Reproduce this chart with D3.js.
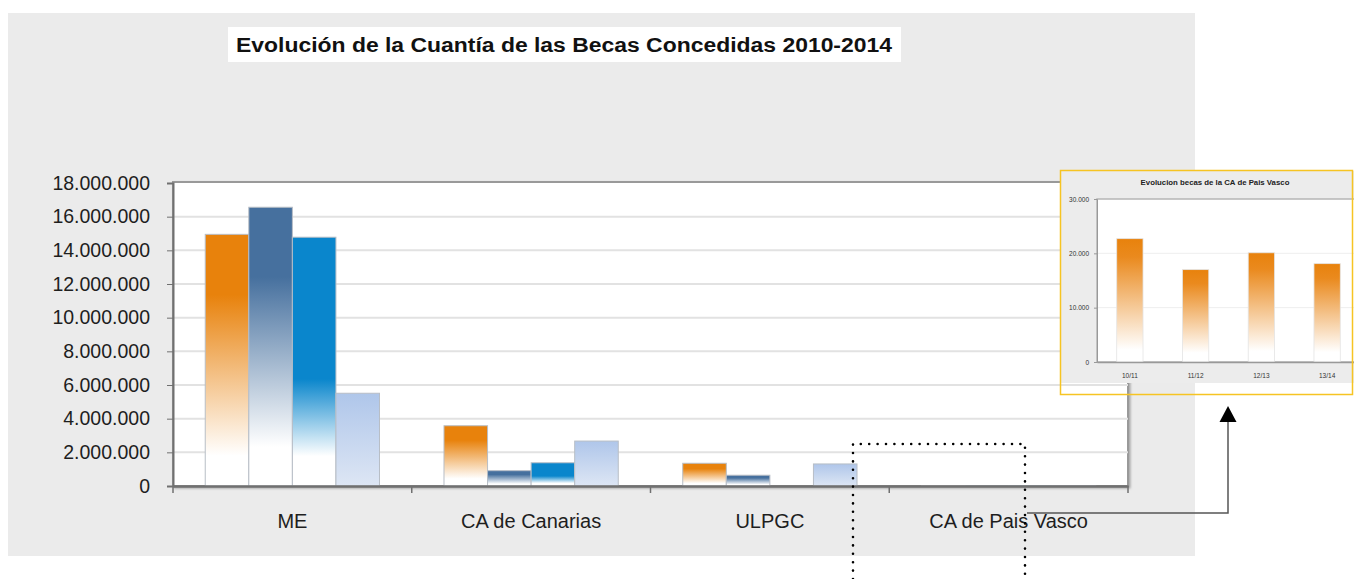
<!DOCTYPE html>
<html>
<head>
<meta charset="UTF-8">
<title>Evolución de la Cuantía de las Becas Concedidas 2010-2014</title>
<script src="https://d3js.org/d3.v7.min.js"></script>
<style>
  body { margin: 0; background: #fff; }
  text { font-family: "Liberation Sans", Arial, Helvetica, sans-serif; }
</style>
</head>
<body>
<svg id="ch" width="1354" height="579"></svg>
<script>
// data
var categories = ["ME", "CA de Canarias", "ULPGC", "CA de Pais Vasco"];
var series = ["10/11", "11/12", "12/13", "13/14"];
var serie1011 = [14950000, 3580000, 1350000, 22700];
var serie1112 = [16560000, 910000, 640000, 17000];
var serie1213 = [14780000, 1380000, 0, 20100];
var serie1314 = [5510000, 2670000, 1310000, 18100];
var yTicks = [0, 2000000, 4000000, 6000000, 8000000, 10000000, 12000000, 14000000, 16000000, 18000000];

// inset: CA de Pais Vasco alone
var insetLabels = ["10/11", "11/12", "12/13", "13/14"];
var insetValues = [22700, 17000, 20100, 18100];
var insetTicks = [0, 10000, 20000, 30000];

var colors = ["#E8820C", "#46709E", "#0A86CC", "#AFC6EA"];
var allSeries = [serie1011, serie1112, serie1213, serie1314];

var fmt = d3.formatLocale({ decimal: ",", thousands: ".", grouping: [3], currency: ["", "€"] }).format(",d");

var svg = d3.select("#ch");
var defs = svg.append("defs");

// gradients, one per series
function vgrad(id, stops) {
  var g = defs.append("linearGradient").attr("id", id)
    .attr("x1", 0).attr("y1", 0).attr("x2", 0).attr("y2", 1);
  stops.forEach(function (s) {
    g.append("stop").attr("offset", s[0]).attr("stop-color", s[1]);
  });
}
vgrad("g0", [[0, colors[0]], [0.24, colors[0]], [0.88, "#fff"], [1, "#fff"]]);
vgrad("g1", [[0, colors[1]], [0.25, colors[1]], [0.86, "#fff"], [1, "#fff"]]);
vgrad("g2", [[0, colors[2]], [0.57, colors[2]], [0.88, "#fff"], [1, "#fff"]]);
vgrad("g3", [[0, colors[3]], [1, "#DDE6F4"]]);
vgrad("gi", [[0, "#E8820C"], [0.15, "#EA8A1E"], [0.9, "#fff"], [1, "#fff"]]);

var sh = defs.append("filter").attr("id", "shadow").attr("x", "-5%").attr("y", "-5%").attr("width", "110%").attr("height", "110%");
sh.append("feDropShadow").attr("dx", 1.5).attr("dy", 1.5).attr("stdDeviation", 1.2).attr("flood-color", "#000").attr("flood-opacity", 0.3);

// grey panel
svg.append("rect").attr("x", 8).attr("y", 13).attr("width", 1187).attr("height", 543).attr("fill", "#EBEBEB");

// title
svg.append("rect").attr("x", 228).attr("y", 27).attr("width", 673).attr("height", 35).attr("fill", "#fff");
svg.append("text").attr("x", 236).attr("y", 52)
  .attr("font-size", 20).attr("font-weight", "bold").attr("fill", "#111")
  .attr("textLength", 656).attr("lengthAdjust", "spacingAndGlyphs")
  .text("Evolución de la Cuantía de las Becas Concedidas 2010-2014");

// scales
var pL = 173, pR = 1128, pT = 183, pB = 486;
var x0 = d3.scaleBand().domain(categories).range([pL, pR]);
var x1 = d3.scaleBand().domain(series).range([0, x0.bandwidth()]).paddingOuter(0.74);
var y = d3.scaleLinear().domain([0, 18000000]).range([pB, pT]);

// plot area
svg.append("rect").attr("x", pL).attr("y", pT - 1).attr("width", pR - pL).attr("height", pB - pT + 1)
  .attr("fill", "#fff").attr("stroke", "#999").attr("stroke-width", 2).attr("filter", "url(#shadow)");

svg.append("g").selectAll("line").data(yTicks.slice(1, -1)).join("line")
  .attr("x1", pL).attr("x2", pR)
  .attr("y1", function (d) { return y(d); }).attr("y2", function (d) { return y(d); })
  .attr("stroke", "#E2E2E2").attr("stroke-width", 2);

// bars
var groups = svg.append("g").selectAll("g").data(categories).join("g")
  .attr("transform", function (d) { return "translate(" + x0(d) + ",0)"; });
groups.selectAll("rect")
  .data(function (c, ci) { return series.map(function (s, si) { return { s: s, si: si, v: allSeries[si][ci] }; }); })
  .join("rect")
  .attr("x", function (d) { return x1(d.s); })
  .attr("y", function (d) { return y(d.v); })
  .attr("width", x1.bandwidth())
  .attr("height", function (d) { return y(0) - y(d.v); })
  .attr("fill", function (d) { return "url(#g" + d.si + ")"; })
  .attr("stroke", function (d) { return d.v > 0 ? "#B8BEC6" : "none"; })
  .attr("stroke-width", 1);

// y axis
var yAxis = svg.append("g").attr("transform", "translate(" + pL + ",0)")
  .call(d3.axisLeft(y).tickValues(yTicks).tickFormat(fmt).tickSize(6).tickPadding(17));
yAxis.select(".domain").attr("stroke", "#707070").attr("stroke-width", 2);
yAxis.selectAll(".tick line").attr("stroke", "#707070");
yAxis.selectAll("text").attr("font-size", 19.5).attr("fill", "#1e1e1e")
  .attr("font-family", "'Liberation Sans', Arial, sans-serif");

// x axis
var xAxis = svg.append("g").attr("transform", "translate(0," + pB + ")")
  .call(d3.axisBottom(x0).tickSize(0).tickPadding(28));
xAxis.select(".domain").attr("stroke", "#707070").attr("stroke-width", 2.5);
xAxis.selectAll("text").attr("font-size", 20).attr("fill", "#1e1e1e")
  .attr("font-family", "'Liberation Sans', Arial, sans-serif");
svg.append("g").selectAll("line").data(categories.concat(["end"])).join("line")
  .attr("x1", function (d, i) { return pL + i * x0.step(); })
  .attr("x2", function (d, i) { return pL + i * x0.step(); })
  .attr("y1", pB).attr("y2", pB + 7)
  .attr("stroke", "#707070").attr("stroke-width", 1.5);

// inset chart
var inset = svg.append("g");
inset.append("rect").attr("x", 1061).attr("y", 171).attr("width", 293).attr("height", 212).attr("fill", "#ECECEC");
inset.append("text").attr("x", 1215).attr("y", 185).attr("text-anchor", "middle")
  .attr("font-size", 7.8).attr("font-weight", "bold").attr("fill", "#222")
  .text("Evolucion becas de la  CA de Pais Vasco");

var ix = d3.scaleBand().domain(insetLabels).range([1097, 1360]).paddingInner(0.6).paddingOuter(0.3);
var iy = d3.scaleLinear().domain([0, 30000]).range([362, 199]);

inset.append("rect").attr("x", 1097).attr("y", 199).attr("width", 263).attr("height", 163)
  .attr("fill", "#fff").attr("stroke", "#B5B5B5").attr("stroke-width", 1.5);
inset.append("g").selectAll("line").data(insetTicks.slice(1, -1)).join("line")
  .attr("x1", 1097).attr("x2", 1360)
  .attr("y1", function (d) { return iy(d); }).attr("y2", function (d) { return iy(d); })
  .attr("stroke", "#EEE").attr("stroke-width", 1);
inset.append("g").selectAll("rect").data(insetValues).join("rect")
  .attr("x", function (d, i) { return ix(insetLabels[i]); })
  .attr("y", function (d) { return iy(d); })
  .attr("width", ix.bandwidth())
  .attr("height", function (d) { return iy(0) - iy(d); })
  .attr("fill", "url(#gi)").attr("stroke", "#E4E4E4").attr("stroke-width", 0.8);

var iya = inset.append("g").attr("transform", "translate(1097,0)")
  .call(d3.axisLeft(iy).tickValues(insetTicks).tickFormat(fmt).tickSize(3).tickPadding(5));
iya.select(".domain").attr("stroke", "#999");
iya.selectAll(".tick line").attr("stroke", "#999");
iya.selectAll("text").attr("font-size", 6.5).attr("fill", "#333");

var ixa = inset.append("g").attr("transform", "translate(0,362)")
  .call(d3.axisBottom(ix).tickSize(0).tickPadding(11));
ixa.select(".domain").attr("stroke", "#999").attr("stroke-width", 1.5);
ixa.selectAll("text").attr("font-size", 6.5).attr("fill", "#333");

inset.append("rect").attr("x", 1060.5).attr("y", 170.5).attr("width", 292).attr("height", 224)
  .attr("fill", "none").attr("stroke", "#F6C423").attr("stroke-width", 1.5);

// dotted selection box
svg.append("path")
  .attr("d", "M853,579 L853,444 L1025,444 L1025,579")
  .attr("fill", "none").attr("stroke", "#000").attr("stroke-width", 2.6)
  .attr("stroke-linecap", "round").attr("stroke-dasharray", "0,8.4");

// connector arrow
svg.append("path")
  .attr("d", "M1027,513 L1228,513 L1228,421")
  .attr("fill", "none").attr("stroke", "#555").attr("stroke-width", 1.5);
svg.append("path")
  .attr("d", "M1228,406 L1236.5,422 L1219.5,422 Z")
  .attr("fill", "#000");
</script>
</body>
</html>
